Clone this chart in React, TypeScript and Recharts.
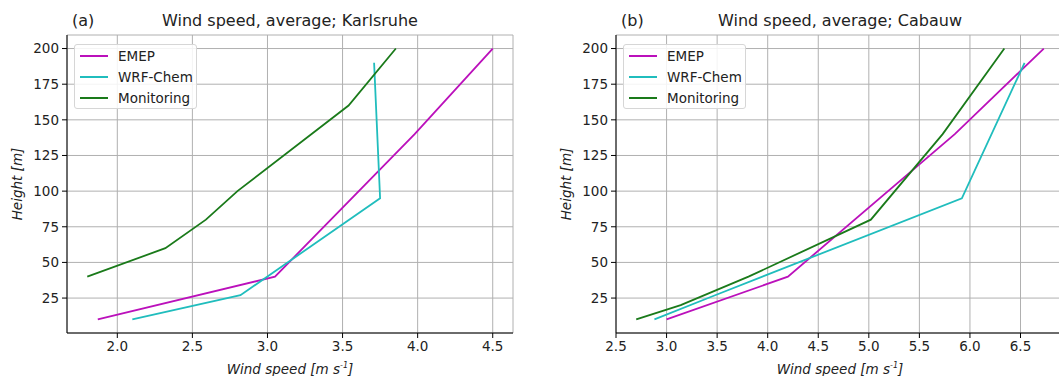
import React from 'react';
import { LineChart, Line, XAxis, YAxis, CartesianGrid, Legend } from 'recharts';

type Pt = { x: number; y: number };

// tick values
const heightTicks = [25, 50, 75, 100, 125, 150, 175, 200];
const karlsruheTicks = [2.0, 2.5, 3.0, 3.5, 4.0, 4.5];
const cabauwTicks = [2.5, 3.0, 3.5, 4.0, 4.5, 5.0, 5.5, 6.0, 6.5];
const seriesOrder = ['EMEP', 'WRF-Chem', 'Monitoring'];

// Karlsruhe profiles (wind speed, height)
const karlsruheEmep: Pt[] = [
  { x: 1.87, y: 10 }, { x: 3.05, y: 40 }, { x: 3.98, y: 140 }, { x: 4.5, y: 200 },
];
const karlsruheWrf: Pt[] = [
  { x: 2.1, y: 10 }, { x: 2.82, y: 27 }, { x: 3.75, y: 95 }, { x: 3.71, y: 190 },
];
const karlsruheObs: Pt[] = [
  { x: 1.8, y: 40 }, { x: 2.32, y: 60 }, { x: 2.59, y: 80 }, { x: 2.8, y: 100 },
  { x: 3.54, y: 160 }, { x: 3.855, y: 200 },
];

// Cabauw profiles
const cabauwEmep: Pt[] = [
  { x: 3.0, y: 10 }, { x: 4.2, y: 40 }, { x: 5.85, y: 140 }, { x: 6.73, y: 200 },
];
const cabauwWrf: Pt[] = [
  { x: 2.88, y: 10 }, { x: 3.48, y: 27 }, { x: 5.92, y: 95 }, { x: 6.54, y: 190 },
];
const cabauwObs: Pt[] = [
  { x: 2.7, y: 10 }, { x: 3.14, y: 20 }, { x: 3.81, y: 40 }, { x: 5.02, y: 80 },
  { x: 5.73, y: 140 }, { x: 6.34, y: 200 },
];

const COLORS = { emep: '#bb10bb', wrf: '#20bdbd', obs: '#1a7a1a' };
const FONT = '"DejaVu Sans", sans-serif';
const TXT = '#222';

const LegendBox = ({ payload }: any) => {
  // keep the plotting order, Recharts sorts by name otherwise
  const items = [...(payload || [])].sort(
    (a: any, b: any) => seriesOrder.indexOf(a.value) - seriesOrder.indexOf(b.value)
  );
  return (
    <div
      style={{
        width: 121, height: 63, border: '1px solid #d6d6d6', borderRadius: 3,
        background: 'rgba(255,255,255,0.85)', fontFamily: FONT, fontSize: 13.5, color: TXT,
        position: 'relative',
      }}
    >
      {items.map((p: any, i: number) => (
        <div key={i} style={{ position: 'absolute', left: 0, top: 2 + i * 21, height: 18, display: 'flex', alignItems: 'center' }}>
          <span style={{ display: 'inline-block', marginLeft: 5, width: 28, height: 2, background: p.color }} />
          <span style={{ marginLeft: 10 }}>{p.value}</span>
        </div>
      ))}
    </div>
  );
};

const XLabel = ({ viewBox }: any) => {
  const cx = viewBox.x + viewBox.width / 2;
  return (
    <text x={cx} y={viewBox.y + 41} textAnchor="middle" fontFamily={FONT} fontSize={13.5} fontStyle="italic" fill={TXT}>
      Wind speed [m s<tspan fontSize={8} dy={-6}>-1</tspan><tspan dy={6}>]</tspan>
    </text>
  );
};

const YLabel = ({ viewBox }: any) => {
  const cx = viewBox.x + 5;
  const cy = viewBox.y + viewBox.height / 2;
  return (
    <text x={cx} y={cy} transform={`rotate(-90, ${cx}, ${cy})`} textAnchor="middle" fontFamily={FONT} fontSize={13.5} fontStyle="italic" fill={TXT}>
      Height [m]
    </text>
  );
};

interface PanelProps {
  tag: string;
  title: string;
  left: number;
  rightMargin: number;
  xDomain: [number, number];
  xTicks: number[];
  emep: Pt[];
  wrf: Pt[];
  obs: Pt[];
}

const Panel = ({ tag, title, left, rightMargin, xDomain, xTicks, emep, wrf, obs }: PanelProps) => {
  const plotLeft = 67;
  const plotRight = 530 - rightMargin;
  const tickStyle = { fontFamily: FONT, fontSize: 13.5, fill: TXT };
  return (
    <div style={{ position: 'absolute', left, top: 0, width: 530, height: 376 }}>
      <div style={{ position: 'absolute', left: plotLeft + 5, top: 11, fontFamily: FONT, fontSize: 16, color: TXT }}>{tag}</div>
      <div
        style={{
          position: 'absolute', left: plotLeft, width: plotRight - plotLeft, top: 11, textAlign: 'center',
          fontFamily: FONT, fontSize: 16, color: TXT, whiteSpace: 'nowrap',
        }}
      >
        {title}
      </div>
      <LineChart width={530} height={376} margin={{ top: 35, right: rightMargin, left: 17, bottom: 13 }}>
        <CartesianGrid stroke="#b0b0b0" strokeWidth={1} />
        <XAxis
          type="number"
          dataKey="x"
          domain={xDomain}
          allowDataOverflow
          ticks={xTicks}
          tickFormatter={(v: number) => v.toFixed(1)}
          height={30}
          tickSize={5}
          tickMargin={3}
          tick={tickStyle}
          stroke="#000"
          interval={0}
          label={<XLabel />}
        />
        <XAxis xAxisId="top" orientation="top" type="number" domain={xDomain} allowDataOverflow height={0} tick={false} tickLine={false} stroke="#000" />
        <YAxis
          type="number"
          dataKey="y"
          domain={[0.5, 209.5]}
          allowDataOverflow
          ticks={heightTicks}
          width={50}
          tickSize={5}
          tickMargin={3}
          tick={tickStyle}
          stroke="#000"
          interval={0}
          label={<YLabel />}
        />
        <YAxis yAxisId="right" orientation="right" type="number" domain={[0.5, 209.5]} allowDataOverflow width={0} tick={false} tickLine={false} stroke="#000" />
        <Legend
          layout="vertical"
          align="center"
          verticalAlign="middle"
          wrapperStyle={{ left: 74, top: 44, width: 123 }}
          content={<LegendBox />}
        />
        <Line data={emep} dataKey="y" name="EMEP" type="linear" stroke={COLORS.emep} strokeWidth={1.8} dot={false} isAnimationActive={false} />
        <Line data={wrf} dataKey="y" name="WRF-Chem" type="linear" stroke={COLORS.wrf} strokeWidth={1.8} dot={false} isAnimationActive={false} />
        <Line data={obs} dataKey="y" name="Monitoring" type="linear" stroke={COLORS.obs} strokeWidth={1.8} dot={false} isAnimationActive={false} />
      </LineChart>
    </div>
  );
};

export default function App() {
  return (
    <div style={{ position: 'absolute', left: 0, top: 0, width: 1059, height: 376, overflow: 'hidden', background: '#fff' }}>
      <Panel
        tag="(a)"
        title="Wind speed, average; Karlsruhe"
        left={0}
        rightMargin={17}
        xDomain={[1.665, 4.635]}
        xTicks={karlsruheTicks}
        emep={karlsruheEmep}
        wrf={karlsruheWrf}
        obs={karlsruheObs}
      />
      <Panel
        tag="(b)"
        title="Wind speed, average; Cabauw"
        left={549}
        rightMargin={15}
        xDomain={[2.5, 6.93]}
        xTicks={cabauwTicks}
        emep={cabauwEmep}
        wrf={cabauwWrf}
        obs={cabauwObs}
      />
    </div>
  );
}
